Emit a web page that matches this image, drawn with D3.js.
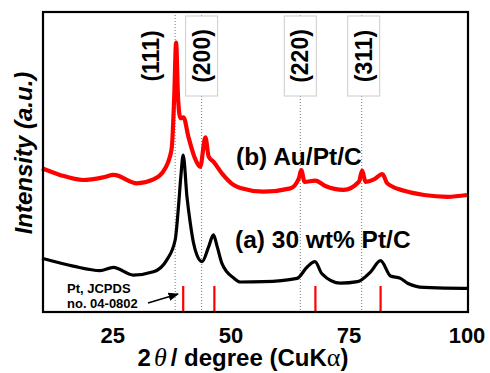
<!DOCTYPE html>
<html lang="en">
  <head>
    <meta charset="UTF-8" />
    <title>XRD</title>
    <style type="text/css">
      body { margin: 0; background: #fff; }
      text { font-family: 'Liberation Sans', Arial, sans-serif; font-weight: bold; }
    </style>
    <script src="https://d3js.org/d3.v7.min.js"></script>
  </head>
  <body>
    <div class="d3Chart"></div>
    <script type="text/javascript">
      // (a) 30 wt% Pt/C
      var thetaA = [10, 16.6, 22.3, 25.1, 29.3, 33.6, 36.4, 38.2, 38.9, 39.4, 39.9, 40.7, 41.4, 42.1, 42.8, 43.9, 45.3, 46.3, 47.1, 48.1, 50.6, 52, 56.9, 64, 66.2, 67.8, 69.3, 73.2, 76.8, 79.6, 81.7, 83.8, 85.9, 87.4, 90.9, 99.4, 100]
      var intensityA = [17.9, 15.3, 13.8, 14.9, 12.3, 13.4, 17.3, 24, 35.1, 45.1, 52.3, 38.4, 29.7, 22.9, 19, 16.8, 21.8, 25.7, 21.8, 16.2, 11.3, 10, 10.1, 11.2, 15.1, 16.8, 12.7, 9.6, 10.1, 13.4, 17.1, 12, 11.2, 9.6, 8.2, 7.9, 7.9]
      // (b) Au/Pt/C
      var thetaB = [10, 13.8, 18.7, 23, 25.2, 30.1, 33.6, 36.1, 37, 37.5, 38, 38.4, 38.8, 39.3, 39.96, 41, 42.4, 43.5, 44.6, 45.3, 46.3, 48.1, 50.6, 52, 56.9, 62.6, 64.4, 64.9, 65.6, 67.9, 70, 73.9, 77.1, 77.8, 78.5, 80.3, 82.1, 83.1, 86.7, 90.9, 95.9, 100]
      var intensityB = [47.9, 45.7, 44, 44.9, 45.7, 42.9, 44.2, 47.9, 51.3, 55.1, 71.8, 89.8, 71.8, 64.6, 64.9, 58.4, 51.2, 48.4, 58.2, 51.8, 50.1, 46.2, 42.3, 41.3, 40.1, 41.2, 44.6, 47.3, 43.4, 43.8, 42, 40.7, 43.4, 47.1, 43.4, 44.2, 46, 42.9, 40.4, 39, 38.4, 39]
      // Au reflections (dotted lines) and Pt JCPDS 04-0802 sticks
      var auPeaks = [38.2, 43.8, 64.7, 77.7]
      var auLabels = ['(111)', '(200)', '(220)', '(311)']
      var ptPeaks = [39.9, 46.5, 67.9, 81.7]
      var xTicks = [25, 50, 75, 100]

      var width = 490
      var height = 373
      // plot area
      var pL = 42, pR = 467, pT = 12, pB = 312

      var svg = d3.select('.d3Chart').append('svg').attr('width', width).attr('height', height)

      var x = d3.scaleLinear().domain([10, 100]).range([pL, pR])
      var y = d3.scaleLinear().domain([0, 100]).range([pB, pT])

      var defs = svg.append('defs')
      defs.append('marker')
        .attr('id', 'arrow')
        .attr('viewBox', '0 0 10 10')
        .attr('refX', 9)
        .attr('refY', 5)
        .attr('markerWidth', 7)
        .attr('markerHeight', 7)
        .attr('orient', 'auto')
        .append('path')
        .attr('d', 'M0,1 L10,5 L0,9 z')
        .attr('fill', '#000')

      // dotted Au lines
      svg.selectAll('.au')
        .data(auPeaks)
        .enter()
        .append('line')
        .attr('x1', (d) => x(d))
        .attr('x2', (d) => x(d))
        .attr('y1', pT)
        .attr('y2', pB)
        .attr('stroke', '#777')
        .attr('stroke-width', 1)
        .attr('stroke-dasharray', '1,2')

      // label boxes + rotated labels
      var labelDx = [-24, 0, 0, 2]
      var boxed = [false, true, true, true]
      var lab = svg.selectAll('.hkl').data(auLabels).enter().append('g')
        .attr('transform', (d, i) => 'translate(' + (x(auPeaks[i]) + labelDx[i]) + ',56)')
      lab.filter((d, i) => boxed[i])
        .append('rect')
        .attr('x', -16)
        .attr('y', -40)
        .attr('width', 32)
        .attr('height', 80)
        .attr('fill', '#fff')
        .attr('stroke', '#ccc')
        .attr('stroke-width', 1)
      lab.append('text')
        .attr('transform', 'rotate(-90)')
        .attr('text-anchor', 'middle')
        .attr('dy', '0.35em')
        .attr('font-size', 23)
        .text((d) => d)

      var line = d3.line()
        .x((d) => x(d[0]))
        .y((d) => y(d[1]))
        .curve(d3.curveMonotoneX)

      svg.append('path')
        .attr('d', line(d3.zip(thetaA, intensityA)))
        .attr('fill', 'none')
        .attr('stroke', '#000')
        .attr('stroke-width', 3.2)
        .attr('stroke-linejoin', 'round')

      svg.append('path')
        .attr('d', line(d3.zip(thetaB, intensityB)))
        .attr('fill', 'none')
        .attr('stroke', '#f00')
        .attr('stroke-width', 4.2)
        .attr('stroke-linejoin', 'round')

      // Pt reference sticks
      svg.selectAll('.pt')
        .data(ptPeaks)
        .enter()
        .append('line')
        .attr('x1', (d) => x(d))
        .attr('x2', (d) => x(d))
        .attr('y1', pB - 26)
        .attr('y2', pB)
        .attr('stroke', '#f00')
        .attr('stroke-width', 2.2)

      // frame
      svg.append('rect')
        .attr('x', pL + 1)
        .attr('y', pT)
        .attr('width', pR - pL)
        .attr('height', pB - pT)
        .attr('fill', 'none')
        .attr('stroke', '#000')
        .attr('stroke-width', 2.2)

      // tick labels
      svg.selectAll('.tick')
        .data(xTicks)
        .enter()
        .append('text')
        .attr('x', (d) => x(d))
        .attr('y', 343)
        .attr('text-anchor', 'middle')
        .attr('font-size', 22)
        .text((d) => d)

      var xt = svg.append('text').attr('x', 243).attr('y', 366).attr('text-anchor', 'middle').attr('font-size', 24)
      xt.append('tspan').text('2')
      xt.append('tspan').attr('dx', 3).attr('font-family', "'Liberation Serif', serif").attr('font-style', 'italic').attr('font-weight', 'normal').attr('font-size', 26).text('θ')
      xt.append('tspan').attr('dx', 4).text('/ degree (CuK')
      xt.append('tspan').attr('font-family', "'Liberation Serif', serif").attr('font-weight', 'normal').attr('font-size', 26).text('α')
      xt.append('tspan').text(')')

      svg.append('text')
        .attr('transform', 'translate(32,153) rotate(-90)')
        .attr('text-anchor', 'middle')
        .attr('font-size', 24)
        .attr('font-style', 'italic')
        .text('Intensity (a.u.)')

      svg.append('text').attr('x', 236).attr('y', 165).attr('font-size', 24.5).text('(b) Au/Pt/C')
      svg.append('text').attr('x', 235).attr('y', 248).attr('font-size', 24.5).text('(a) 30 wt% Pt/C')

      svg.append('text').attr('x', 67).attr('y', 293).attr('font-size', 13).text('Pt, JCPDS')
      svg.append('text').attr('x', 67).attr('y', 308).attr('font-size', 13).text('no. 04-0802')
      svg.append('line')
        .attr('x1', 148).attr('y1', 303)
        .attr('x2', 178).attr('y2', 294)
        .attr('stroke', '#000')
        .attr('stroke-width', 1.5)
        .attr('marker-end', 'url(#arrow)')
    </script>
  </body>
</html>
